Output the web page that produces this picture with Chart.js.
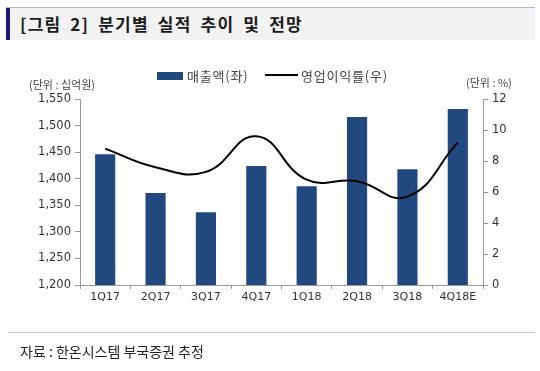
<!DOCTYPE html>
<html><head><meta charset="utf-8">
<script src="https://cdn.jsdelivr.net/npm/chart.js@4"></script>
<style>
html,body{margin:0;padding:0;background:#fff;}
#wrap{position:relative;width:540px;height:371px;overflow:hidden;font-family:"Noto Sans CJK KR","Noto Sans",sans-serif;}
#topline{position:absolute;left:6px;top:7px;width:529px;height:1px;background:#b4b4d2;}
#titlebar{position:absolute;left:6px;top:8px;width:529px;height:32px;background:#f2f2f2;}
#titlemark{position:absolute;left:6px;top:8px;width:4px;height:32px;background:#1c1c78;}
#title{position:absolute;left:20px;top:11px;font-size:17px;font-weight:bold;color:#1a1a1a;letter-spacing:1.2px;word-spacing:4px;}
.unit{position:absolute;font-size:11px;color:#444;}
.leg{position:absolute;font-size:13px;color:#444;letter-spacing:0.8px;}
#botline{position:absolute;left:8px;top:332px;width:527px;height:1px;background:#c4c4e2;}
#source{position:absolute;left:20px;top:341px;font-size:14px;color:#222;}
canvas{position:absolute;left:0;top:0;}
</style></head>
<body>
<div id="wrap">
<canvas id="c" width="540" height="371"></canvas>
<div id="topline"></div><div id="titlebar"></div><div id="titlemark"></div>
<div id="title">[그림 2] 분기별 실적 추이 및 전망</div>
<div class="unit" style="left:29px;top:76px;">(단위 : 십억원)</div>
<div class="unit" style="left:466px;top:74px;">(단위 : %)</div>
<div style="position:absolute;left:157px;top:72px;width:26px;height:8px;background:#21497f;"></div>
<div class="leg" style="left:187px;top:66px;">매출액(좌)</div>
<div style="position:absolute;left:265px;top:74px;width:33px;height:2px;background:#000;"></div>
<div class="leg" style="left:301px;top:66px;">영업이익률(우)</div>
<div id="botline"></div>
<div id="source">자료 : 한온시스템 부국증권 추정</div>
</div>
<script>
const categories = ["1Q17","2Q17","3Q17","4Q17","1Q18","2Q18","3Q18","4Q18E"];
const revenue = [1446, 1373, 1337, 1424, 1386, 1516, 1418, 1531];
const opMargin = [8.8, 7.6, 7.3, 9.6, 6.8, 6.7, 5.7, 9.2];
const leftTicks = [1200, 1250, 1300, 1350, 1400, 1450, 1500, 1550];
const rightTicks = [0, 2, 4, 6, 8, 10, 12];

const tickFont = {family: "DejaVu Sans", size: 11.5};
new Chart(document.getElementById('c'), {
  data: {
    labels: categories,
    datasets: [
      {type: 'line', label: '영업이익률(우)', data: opMargin, yAxisID: 'y1', borderColor: '#000', borderWidth: 2, pointRadius: 0, tension: 0.45, order: 0},
      {type: 'bar', label: '매출액(좌)', data: revenue, yAxisID: 'y', backgroundColor: '#21497f', barPercentage: 0.4, categoryPercentage: 1.0, order: 1}
    ]
  },
  options: {
    responsive: false, animation: false, devicePixelRatio: 1,
    layout: {padding: {left: 20, right: 17, top: 99, bottom: 61}},
    plugins: {legend: {display: false}, tooltip: {enabled: false}},
    scales: {
      x: {
        offset: true,
        grid: {display: true, drawOnChartArea: false, offset: true, tickLength: 4, color: '#999'},
        border: {color: '#999'},
        ticks: {color: '#333', font: {family: "DejaVu Sans", size: 11}, padding: 2},
        afterFit: s => { s.height = 25; }
      },
      y: {
        position: 'left', min: 1200, max: 1550,
        afterBuildTicks: s => { s.ticks = leftTicks.map(v => ({value: v})); },
        grid: {display: true, drawOnChartArea: false, tickLength: 5, color: '#999'},
        border: {color: '#999'},
        ticks: {color: '#333', font: tickFont, padding: 4, callback: v => v.toLocaleString('en-US')},
        afterFit: s => { s.width = 60; }
      },
      y1: {
        position: 'right', min: 0, max: 12,
        afterBuildTicks: s => { s.ticks = rightTicks.map(v => ({value: v})); },
        grid: {display: true, drawOnChartArea: false, tickLength: 5, color: '#999'},
        border: {color: '#999'},
        ticks: {color: '#333', font: tickFont, padding: 4},
        afterFit: s => { s.width = 40; }
      }
    }
  }
});
</script>
</body></html>
